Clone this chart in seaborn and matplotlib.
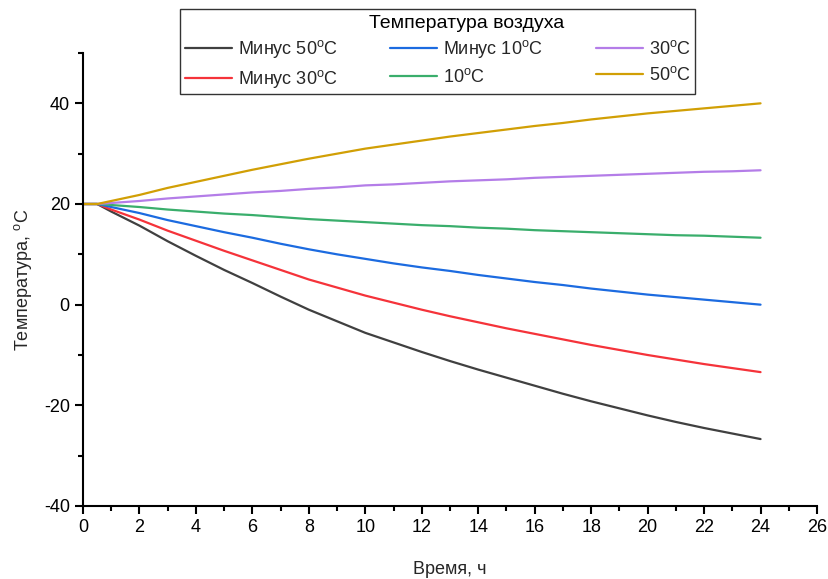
import numpy as np
import pandas as pd
import matplotlib
matplotlib.use("Agg")
import matplotlib.pyplot as plt
import seaborn as sns
from matplotlib.ticker import MultipleLocator

# ---- data ----
hours = [0, 0.5, 1, 2, 3, 4, 5, 6, 7, 8, 9, 10, 11, 12, 13, 14, 15, 16, 17, 18,
         19, 20, 21, 22, 23, 24]
minus50 = [20, 20, 18.5, 15.7, 12.6, 9.7, 6.9, 4.3, 1.6, -1.0, -3.3, -5.6, -7.5, -9.4,
           -11.2, -12.9, -14.5, -16.1, -17.7, -19.2, -20.6, -22.0, -23.3, -24.5, -25.6, -26.7]
minus30 = [20, 20, 18.9, 16.9, 14.7, 12.7, 10.7, 8.8, 6.9, 5.0, 3.4, 1.8, 0.4, -1.0,
           -2.3, -3.5, -4.7, -5.8, -6.9, -8.0, -9.0, -10.0, -10.9, -11.8, -12.6, -13.4]
minus10 = [20, 20, 19.4, 18.2, 16.8, 15.6, 14.4, 13.3, 12.1, 11.0, 10.0, 9.1, 8.2, 7.4,
           6.7, 5.9, 5.2, 4.5, 3.9, 3.2, 2.6, 2.0, 1.5, 1.0, 0.5, 0.0]
plus10 = [20, 20, 19.8, 19.4, 18.9, 18.5, 18.1, 17.8, 17.4, 17.0, 16.7, 16.4, 16.1, 15.8,
          15.6, 15.3, 15.1, 14.8, 14.6, 14.4, 14.2, 14.0, 13.8, 13.7, 13.5, 13.3]
plus30 = [20, 20, 20.2, 20.6, 21.1, 21.5, 21.9, 22.3, 22.6, 23.0, 23.3, 23.7, 23.9, 24.2,
          24.5, 24.7, 24.9, 25.2, 25.4, 25.6, 25.8, 26.0, 26.2, 26.4, 26.5, 26.7]
plus50 = [20, 20, 20.6, 21.8, 23.2, 24.4, 25.6, 26.8, 27.9, 29.0, 30.0, 31.0, 31.8, 32.6,
          33.4, 34.1, 34.8, 35.5, 36.1, 36.8, 37.4, 38.0, 38.5, 39.0, 39.5, 40.0]

labels = ["Минус 50$^{\\mathrm{o}}$C", "Минус 30$^{\\mathrm{o}}$C",
          "Минус 10$^{\\mathrm{o}}$C", "10$^{\\mathrm{o}}$C",
          "30$^{\\mathrm{o}}$C", "50$^{\\mathrm{o}}$C"]
series = [minus50, minus30, minus10, plus10, plus30, plus50]
colors = ["#404040", "#f5333a", "#1c6be0", "#3aae6c", "#b47de8", "#d19f05"]
legend_title = "Температура воздуха"

x_ticks = list(range(0, 27, 2))
y_ticks = [-40, -20, 0, 20, 40]

rows = []
for lab, vals in zip(labels, series):
    for h, v in zip(hours, vals):
        rows.append({"t": h, "T": v, "s": lab})
df = pd.DataFrame(rows)

sns.set_theme(style="ticks")
plt.rcParams["font.family"] = ["Liberation Sans", "DejaVu Sans"]
plt.rcParams["mathtext.fontset"] = "custom"
plt.rcParams["mathtext.rm"] = "Liberation Sans"
plt.rcParams["mathtext.it"] = "Liberation Sans:italic"
plt.rcParams["axes.unicode_minus"] = False

fig = plt.figure(figsize=(8.29, 5.79), dpi=100)
ax = fig.add_axes([83 / 829, 1 - 506 / 579, (817 - 83) / 829, (506 - 53) / 579])

sns.lineplot(data=df, x="t", y="T", hue="s", hue_order=labels,
             palette=dict(zip(labels, colors)), linewidth=1.6, ax=ax,
             legend=True)

handles, labs = ax.get_legend_handles_labels()
ax.get_legend().remove()

ax.set_xlim(0, 26)
ax.set_ylim(-40, 50)
ax.set_xticks(x_ticks)
ax.set_yticks(y_ticks)
ax.xaxis.set_minor_locator(MultipleLocator(1))
ax.yaxis.set_minor_locator(MultipleLocator(10))
ax.tick_params(axis="both", which="major", direction="out", length=6, width=1.5,
               labelsize=13, color="black", labelcolor="black")
ax.tick_params(axis="both", which="minor", direction="out", length=3.5, width=1.5,
               color="black")
for sp in ["top", "right"]:
    ax.spines[sp].set_visible(False)
for sp in ["left", "bottom"]:
    ax.spines[sp].set_linewidth(1.5)
    ax.spines[sp].set_color("black")

ax.set_xlabel("Время, ч", fontsize=13, labelpad=18)
ax.set_ylabel("Температура, $^{\\mathrm{o}}$C", fontsize=13, labelpad=7)

# legend with reserved title row; title text drawn offset like the reference
leg = fig.legend(handles, labs, loc="upper center", bbox_to_anchor=(0.528, 0.984),
                 ncol=3, title=" ", fontsize=13, title_fontsize=14,
                 frameon=True, fancybox=False, edgecolor="#333333", framealpha=1,
                 handlelength=2.6, columnspacing=2.9, labelspacing=0.42,
                 borderpad=0.25, handletextpad=0.35, borderaxespad=0)
leg.get_frame().set_linewidth(1.0)
leg.set_zorder(5)
fig.text(467 / 829, 1 - 23 / 579, legend_title, fontsize=14, ha="center", va="center",
         color="black", zorder=20)

fig.savefig("out.png", dpi=100)
